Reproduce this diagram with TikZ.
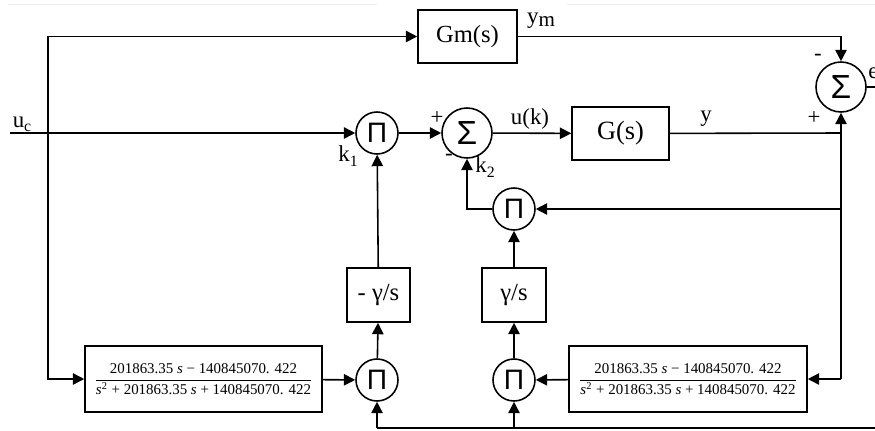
\documentclass[tikz,border=0pt]{standalone}
\usepackage{amsmath}
\usepackage{fontspec}
\setmainfont{Liberation Serif}
\newfontfamily\opfont{Liberation Sans}
\usetikzlibrary{arrows.meta}
\newcommand{\lowtext}[1]{\raisebox{-0.4ex}{\fontsize{9}{10}\selectfont #1}}
\newcommand{\filtertf}{\fontsize{8.5}{10}\selectfont
  $\dfrac{\text{201863.35 \textit{s} − 140845070. 422}}{\text{\textit{s}\textsuperscript{2} + 201863.35 \textit{s} + 140845070. 422}}$}

\begin{document}
\begin{tikzpicture}[x=0.02cm,y=-0.02cm,
  wire/.style={line width=0.9pt},
  sig/.style={wire,-{Triangle[length=6.5pt,width=6.5pt]}},
  blk/.style={draw,line width=0.9pt,inner sep=0pt,align=center},
  prod/.style={draw,circle,line width=0.9pt,inner sep=0pt,minimum size=0.84cm,font=\opfont\fontsize{16}{16}\selectfont},
  summ/.style={prod,minimum size=1cm,font=\opfont\fontsize{19}{19}\selectfont},
  lbl/.style={font=\fontsize{13}{15}\selectfont,inner sep=0pt}]
\useasboundingbox (0,0) rectangle (875,430);
\draw[gray!15] (8,4) -- (377,4) (567,4) -- (875,4);
% blocks
\node[blk,minimum width=1.98cm,minimum height=1.06cm,font=\fontsize{14}{16}\selectfont] (gm) at (467.5,36.5) {Gm(s)};
\node[blk,minimum width=1.94cm,minimum height=1.06cm,font=\fontsize{15}{17}\selectfont] (plant) at (620.5,133.5) {G(s)};
\node[blk,minimum width=1.26cm,minimum height=1.08cm,font=\fontsize{14}{16}\selectfont] (intn) at (378.5,295) {- γ/s};
\node[blk,minimum width=1.28cm,minimum height=1.08cm,font=\fontsize{14}{16}\selectfont] (intp) at (514,295) {γ/s};
\node[blk,minimum width=4.74cm,minimum height=1.32cm] (fl) at (203.5,379) {\filtertf};
\node[blk,minimum width=4.76cm,minimum height=1.32cm] (fr) at (688,379) {\filtertf};
\node[summ] (sumu) at (467,133) {Σ};
\node[summ] (sume) at (841,87) {Σ};
\node[prod] (pk1) at (377,133) {Π};
\node[prod] (pk2) at (514,209) {Π};
\node[prod] (pl) at (377,380) {Π};
\node[prod] (pr) at (514,380) {Π};
% branch points
\coordinate (uc) at (10,133);
\coordinate (jl) at (48,133);
\coordinate (jr) at (841,133);
\coordinate (jm) at (841,209);
\coordinate (jb) at (841,379);
\coordinate (eo) at (875,87);
\coordinate (bl) at (377,428);
\coordinate (br) at (514,428);
\coordinate (be) at (875,428);
% signals
\draw[sig] (uc) -- (pk1);
\draw[sig] (jl) |- (gm);
\draw[sig] (jl) |- (fl);
\draw[sig] (fl) -- (pl);
\draw[sig] (pl) -- (intn);
\draw[sig] (intn) -- (pk1);
\draw[sig] (pk1) -- (sumu);
\draw[sig] (sumu) -- (plant);
\draw[wire] (plant) -- (jr);
\draw[sig] (gm) -| (sume);
\draw[sig] (jb) -- (sume);
\draw[sig] (jb) -- (fr);
\draw[sig] (jm) -- (pk2);
\draw[sig] (fr) -- (pr);
\draw[sig] (pr) -- (intp);
\draw[sig] (intp) -- (pk2);
\draw[sig] (pk2) -| (sumu);
\draw[wire] (sume) -- (eo);
\draw[wire] (bl) -- (be);
\draw[sig] (bl) -- (pl);
\draw[sig] (br) -- (pr);
% labels
\node[lbl] (tuc) at (22,124) {u\lowtext{c}};
\node[lbl] (tym) at (541,21) {y\raisebox{-0.3ex}{\fontsize{12}{12}\selectfont m}};
\node[lbl] (tk1) at (348,156) {k\lowtext{1}};
\node[lbl] (tk2) at (485,167) {k\lowtext{2}};
\node[lbl] (tuk) at (530,119) {u(k)};
\node[lbl] (ty) at (706,119) {y};
\node[lbl] (tpu) at (437,118) {+};
\node[lbl] (tmu) at (449,157) {-};
\node[lbl] (tme) at (818,57) {-};
\node[lbl] (tpe) at (814,118) {+};
\node[lbl,anchor=west] (te) at (868,73) {e};
\end{tikzpicture}
\end{document}
